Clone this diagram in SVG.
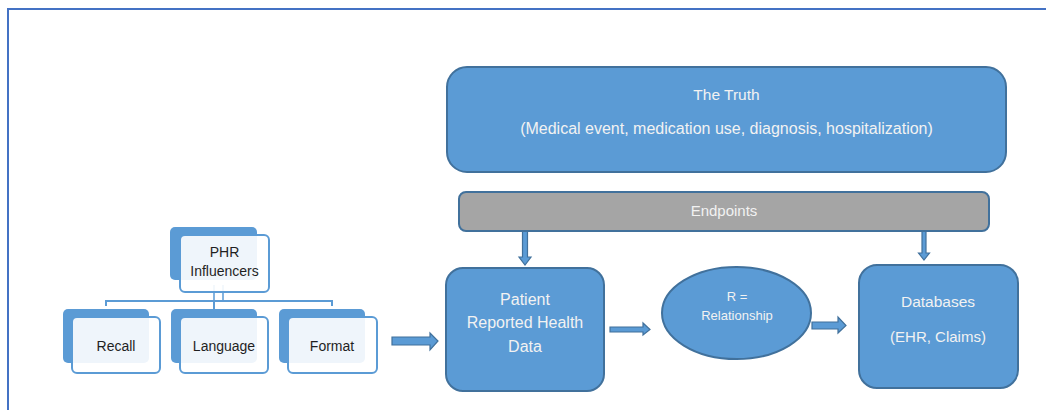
<svg xmlns="http://www.w3.org/2000/svg" width="1046" height="410" viewBox="0 0 1046 410">
<style>
.main{fill:#5B9BD5;stroke:#41719C;stroke-width:2}
.bar{fill:#A5A5A5;stroke:#41719C;stroke-width:2}
.back{fill:#5B9BD5;stroke:none}
.front{fill:#FFFFFF;fill-opacity:0.9;stroke:#5B9BD5;stroke-width:2}
.arr{fill:#5B9BD5;stroke:#41719C;stroke-width:1.2}
.conn{fill:none;stroke:#5B9BD5;stroke-width:2}
.wt{font-family:"Liberation Sans",Arial,sans-serif;fill:#F2F2F2;text-anchor:middle}
.dt{font-family:"Liberation Sans",Arial,sans-serif;fill:#1F1F1F;text-anchor:middle;font-size:14px}
</style>
<rect x="0" y="0" width="1046" height="410" fill="#FFFFFF"/>
<path d="M8 410 V9 H1046" fill="none" stroke="#4472C4" stroke-width="2"/>

<g id="connectors">
  <path class="conn" d="M106 306 V301 H332 V306"/>
  <path class="conn" d="M214 309 V301"/>
  <path d="M214 285 V301 M223 285 V301" fill="none" stroke="#5B9BD5" stroke-width="1.5"/>
  <polygon class="arr" points="392,337 430,337 430,333 438,341 430,350 430,345 392,345"/>
  <polygon class="arr" points="610,327 643,327 643,323 650,329.5 643,335 643,332 610,332"/>
  <polygon class="arr" points="812,322 838,322 838,317 846,325.5 838,333 838,329 812,329"/>
  <polygon class="arr" points="522.5,231 527.5,231 527.5,257 531,257 525,265 519,257 522.5,257"/>
  <polygon class="arr" points="922,231 926,231 926,253 929.5,253 924,260 918.5,253 922,253"/>
</g>

<g id="truth">
  <rect class="main" x="447" y="67" width="559" height="105" rx="20"/>
  <text class="wt" x="726.5" y="100" font-size="15.5">The Truth</text>
  <text class="wt" x="726.5" y="134" font-size="16">(Medical event, medication use, diagnosis, hospitalization)</text>
</g>

<g id="endpoints">
  <rect class="bar" x="459" y="192" width="530" height="39" rx="7"/>
  <text class="wt" x="724" y="216" font-size="15">Endpoints</text>
</g>

<g id="phr">
  <rect class="back" x="170" y="227" width="87" height="53" rx="5"/>
  <rect class="front" x="180" y="235" width="89" height="57" rx="5"/>
  <text class="dt" x="224.5" y="257">PHR</text>
  <text class="dt" x="224.5" y="276">Influencers</text>
</g>

<g id="recall">
  <rect class="back" x="63" y="309" width="86" height="54" rx="5"/>
  <rect class="front" x="72" y="317" width="88" height="56" rx="5"/>
  <text class="dt" x="116" y="351">Recall</text>
</g>

<g id="language">
  <rect class="back" x="171" y="309" width="86" height="54" rx="5"/>
  <rect class="front" x="180" y="317" width="88" height="56" rx="5"/>
  <text class="dt" x="224" y="351">Language</text>
</g>

<g id="format">
  <rect class="back" x="279" y="309" width="86" height="54" rx="5"/>
  <rect class="front" x="288" y="317" width="89" height="56" rx="5"/>
  <text class="dt" x="332" y="351">Format</text>
</g>

<g id="prhd">
  <rect class="main" x="446" y="268" width="158" height="123" rx="17"/>
  <text class="wt" x="525" y="305" font-size="16">Patient</text>
  <text class="wt" x="525" y="328" font-size="16">Reported Health</text>
  <text class="wt" x="525" y="352" font-size="16">Data</text>
</g>

<g id="relationship">
  <ellipse class="main" cx="736.5" cy="313" rx="74.5" ry="46"/>
  <text class="wt" x="737" y="301" font-size="13">R =</text>
  <text class="wt" x="737" y="320" font-size="13">Relationship</text>
</g>

<g id="databases">
  <rect class="main" x="859" y="265" width="159" height="123" rx="18"/>
  <text class="wt" x="938" y="307" font-size="15.5">Databases</text>
  <text class="wt" x="938" y="342" font-size="15">(EHR, Claims)</text>
</g>
</svg>
